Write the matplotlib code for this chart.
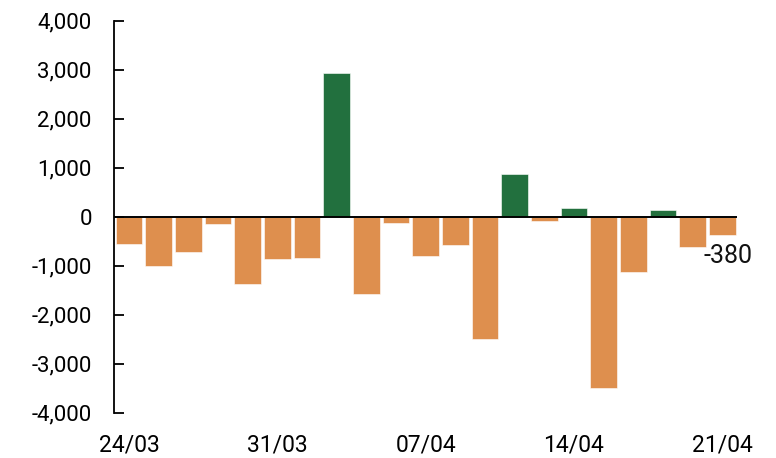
import matplotlib
matplotlib.use("Agg")
import matplotlib.pyplot as plt

plt.rcParams["font.family"] = ["Roboto", "DejaVu Sans"]

# daily flows (business days)
dates = ["24/03", "25/03", "26/03", "27/03", "28/03",
         "31/03", "01/04", "02/04", "03/04", "04/04",
         "07/04", "08/04", "09/04", "10/04", "11/04",
         "14/04", "15/04", "16/04", "17/04", "18/04",
         "21/04"]
values = [-560, -1000, -730, -160, -1370,
          -860, -850, 2930, -1570, -120,
          -800, -570, -2500, 860, -80,
          170, -3500, -1120, 130, -610,
          -380]
tick_labels = ["24/03", "31/03", "07/04", "14/04", "21/04"]

ORANGE = "#de8f4e"
GREEN = "#22703e"

fig = plt.figure(figsize=(7.76, 4.58), dpi=100)
ax = fig.add_axes([0.147, 0.099, 0.803, 0.856])

x = list(range(len(values)))
colors = [GREEN if v > 0 else ORANGE for v in values]
ax.bar(x, values, width=0.9, color=colors, edgecolor="white", linewidth=0.4)
ax.axhline(0, color="black", lw=1.4, zorder=3)

# last value label
ax.text(x[-1] + 0.2, values[-1] - 170, f"{values[-1]:,}", ha="center", va="top",
        fontsize=18, color="#111111")

ax.set_xlim(-0.5, len(values) - 0.5)
ax.set_ylim(-4000, 4000)
ax.set_yticks(range(-4000, 4001, 1000))
ax.yaxis.set_major_formatter(matplotlib.ticker.FuncFormatter(lambda v, _: f"{int(v):,}"))
ax.tick_params(axis="y", direction="in", length=7, width=1.3, pad=16, labelsize=16)

tick_pos = [dates.index(d) for d in tick_labels]
ax.set_xticks(tick_pos)
ax.set_xticklabels(tick_labels)
ax.tick_params(axis="x", length=0, pad=15, labelsize=16.5)

for s in ["top", "right", "bottom"]:
    ax.spines[s].set_visible(False)
ax.spines["left"].set_linewidth(1.3)

fig.savefig("out.png", dpi=100)
